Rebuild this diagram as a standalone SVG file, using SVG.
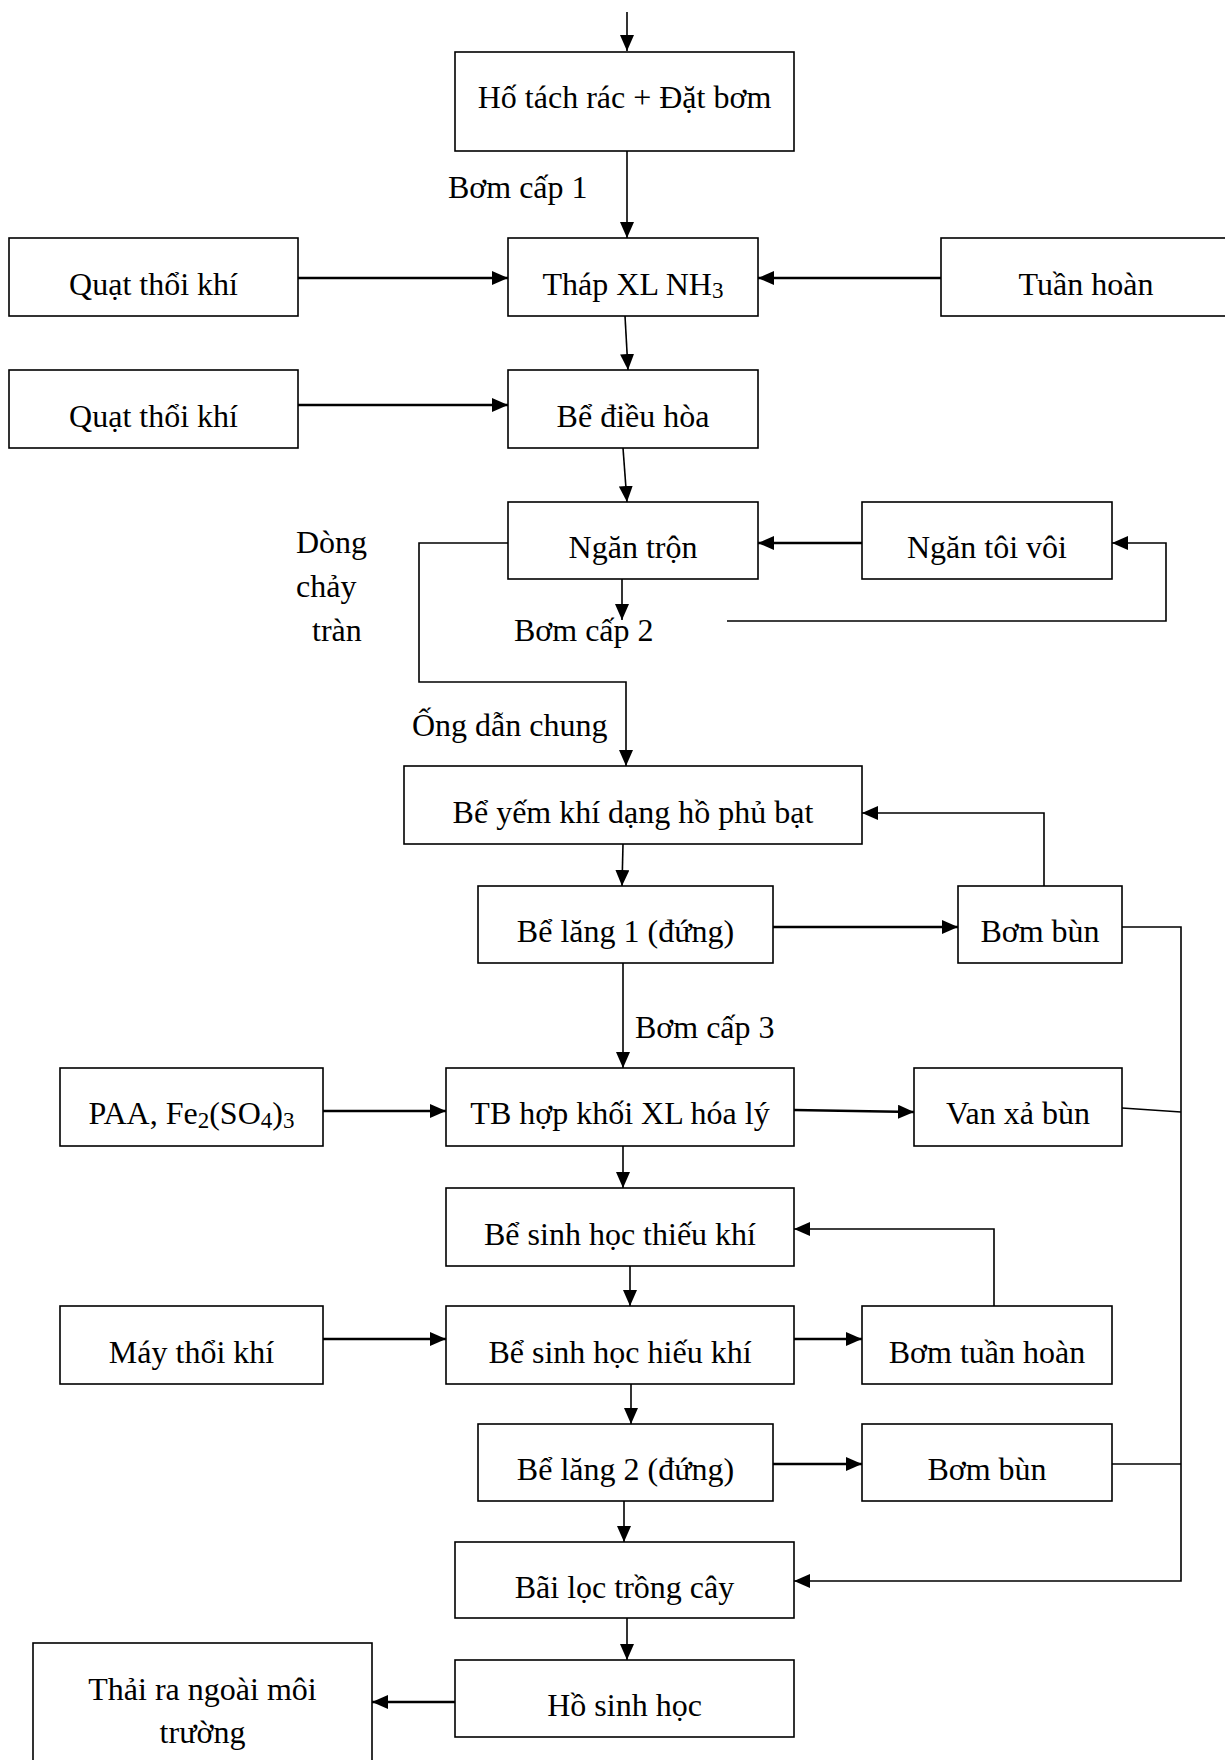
<svg xmlns="http://www.w3.org/2000/svg" width="1225" height="1760" viewBox="0 0 1225 1760">
<style>
.box{fill:#fff;stroke:#000;stroke-width:1.6}
.t{font-family:"Liberation Serif","Times New Roman",serif;font-size:32px;fill:#000}
.c{text-anchor:middle}
.ln{fill:none;stroke:#000;stroke-width:1.6}
.hl{stroke-width:2.4}
.sub{font-size:23px}
</style>
<defs>
<marker id="ah" markerUnits="userSpaceOnUse" markerWidth="16" markerHeight="14" refX="16" refY="7" orient="auto">
<path d="M0,0 L16,7 L0,14 z" fill="#000"/>
</marker>
</defs>
<rect width="1225" height="1760" fill="#fff"/>

<g id="connectors">
<line class="ln" x1="627" y1="12" x2="627" y2="51" marker-end="url(#ah)"/>
<line class="ln" x1="627" y1="151" x2="627" y2="238" marker-end="url(#ah)"/>
<line class="ln hl" x1="298" y1="278" x2="508" y2="278" marker-end="url(#ah)"/>
<line class="ln hl" x1="941" y1="278" x2="758" y2="278" marker-end="url(#ah)"/>
<line class="ln" x1="625" y1="316" x2="628" y2="370" marker-end="url(#ah)"/>
<line class="ln hl" x1="298" y1="405" x2="508" y2="405" marker-end="url(#ah)"/>
<line class="ln" x1="623" y1="448" x2="627" y2="502" marker-end="url(#ah)"/>
<line class="ln hl" x1="862" y1="543" x2="758" y2="543" marker-end="url(#ah)"/>
<polyline class="ln" points="727,621 1166,621 1166,543 1112,543" marker-end="url(#ah)"/>
<line class="ln" x1="622" y1="579" x2="622" y2="620" marker-end="url(#ah)"/>
<polyline class="ln" points="508,543 419,543 419,682 626,682 626,766" marker-end="url(#ah)"/>
<line class="ln" x1="623" y1="844" x2="622" y2="886" marker-end="url(#ah)"/>
<line class="ln hl" x1="773" y1="927" x2="958" y2="927" marker-end="url(#ah)"/>
<polyline class="ln" points="1044,886 1044,813 862,813" marker-end="url(#ah)"/>
<polyline class="ln" points="1122,927 1181,927 1181,1581 794,1581" marker-end="url(#ah)"/>
<line class="ln" x1="623" y1="963" x2="623" y2="1068" marker-end="url(#ah)"/>
<line class="ln hl" x1="323" y1="1111" x2="446" y2="1111" marker-end="url(#ah)"/>
<line class="ln hl" x1="794" y1="1110" x2="914" y2="1112" marker-end="url(#ah)"/>
<line class="ln" x1="1122" y1="1108" x2="1181" y2="1112"/>
<line class="ln" x1="623" y1="1146" x2="623" y2="1188" marker-end="url(#ah)"/>
<line class="ln" x1="630" y1="1266" x2="630" y2="1306" marker-end="url(#ah)"/>
<line class="ln hl" x1="323" y1="1339" x2="446" y2="1339" marker-end="url(#ah)"/>
<line class="ln hl" x1="794" y1="1339" x2="862" y2="1339" marker-end="url(#ah)"/>
<polyline class="ln" points="994,1306 994,1229 794,1229" marker-end="url(#ah)"/>
<line class="ln" x1="631" y1="1384" x2="631" y2="1424" marker-end="url(#ah)"/>
<line class="ln hl" x1="773" y1="1464" x2="862" y2="1464" marker-end="url(#ah)"/>
<line class="ln" x1="1112" y1="1464" x2="1181" y2="1464"/>
<line class="ln" x1="624" y1="1501" x2="624" y2="1542" marker-end="url(#ah)"/>
<line class="ln" x1="627" y1="1618" x2="627" y2="1660" marker-end="url(#ah)"/>
<line class="ln hl" x1="455" y1="1702" x2="372" y2="1702" marker-end="url(#ah)"/>
</g>

<g id="labels">
<text class="t" x="448" y="198">Bơm cấp 1</text>
<text class="t" x="296" y="553">Dòng</text>
<text class="t" x="296" y="597">chảy</text>
<text class="t" x="312" y="641">tràn</text>
<text class="t" x="514" y="641">Bơm cấp 2</text>
<text class="t" x="412" y="736">Ống dẫn chung</text>
<text class="t" x="635" y="1038">Bơm cấp 3</text>
</g>

<g id="n-hotachrac"><rect class="box" x="455" y="52" width="339" height="99"/><text class="t c" x="624.5" y="108">Hố tách rác + Đặt bơm</text></g>
<g id="n-quat1"><rect class="box" x="9" y="238" width="289" height="78"/><text class="t c" x="153.5" y="295">Quạt thổi khí</text></g>
<g id="n-thap"><rect class="box" x="508" y="238" width="250" height="78"/><text class="t c" x="633" y="295">Tháp XL NH<tspan class="sub" dy="3">3</tspan></text></g>
<g id="n-tuanhoan"><rect class="box" x="941" y="238" width="290" height="78"/><text class="t c" x="1086" y="295">Tuần hoàn</text></g>
<g id="n-quat2"><rect class="box" x="9" y="370" width="289" height="78"/><text class="t c" x="153.5" y="427">Quạt thổi khí</text></g>
<g id="n-dieuhoa"><rect class="box" x="508" y="370" width="250" height="78"/><text class="t c" x="633" y="427">Bể điều hòa</text></g>
<g id="n-ngantron"><rect class="box" x="508" y="502" width="250" height="77"/><text class="t c" x="633" y="558">Ngăn trộn</text></g>
<g id="n-toivoi"><rect class="box" x="862" y="502" width="250" height="77"/><text class="t c" x="987" y="558">Ngăn tôi vôi</text></g>
<g id="n-yemkhi"><rect class="box" x="404" y="766" width="458" height="78"/><text class="t c" x="633" y="823">Bể yếm khí dạng hồ phủ bạt</text></g>
<g id="n-lang1"><rect class="box" x="478" y="886" width="295" height="77"/><text class="t c" x="625.5" y="942">Bể lăng 1 (đứng)</text></g>
<g id="n-bombun1"><rect class="box" x="958" y="886" width="164" height="77"/><text class="t c" x="1040" y="942">Bơm bùn</text></g>
<g id="n-paa"><rect class="box" x="60" y="1068" width="263" height="78"/><text class="t c" x="191.5" y="1124">PAA, Fe<tspan class="sub" dy="4">2</tspan><tspan dy="-4">(SO</tspan><tspan class="sub" dy="4">4</tspan><tspan dy="-4">)</tspan><tspan class="sub" dy="4">3</tspan></text></g>
<g id="n-hoaly"><rect class="box" x="446" y="1068" width="348" height="78"/><text class="t c" x="620" y="1124">TB hợp khối XL hóa lý</text></g>
<g id="n-vanxa"><rect class="box" x="914" y="1068" width="208" height="78"/><text class="t c" x="1018" y="1124">Van xả bùn</text></g>
<g id="n-thieukhi"><rect class="box" x="446" y="1188" width="348" height="78"/><text class="t c" x="620" y="1245">Bể sinh học thiếu khí</text></g>
<g id="n-maythoi"><rect class="box" x="60" y="1306" width="263" height="78"/><text class="t c" x="191.5" y="1363">Máy thổi khí</text></g>
<g id="n-hieukhi"><rect class="box" x="446" y="1306" width="348" height="78"/><text class="t c" x="620" y="1363">Bể sinh học hiếu khí</text></g>
<g id="n-bomtuanhoan"><rect class="box" x="862" y="1306" width="250" height="78"/><text class="t c" x="987" y="1363">Bơm tuần hoàn</text></g>
<g id="n-lang2"><rect class="box" x="478" y="1424" width="295" height="77"/><text class="t c" x="625.5" y="1480">Bể lăng 2 (đứng)</text></g>
<g id="n-bombun2"><rect class="box" x="862" y="1424" width="250" height="77"/><text class="t c" x="987" y="1480">Bơm bùn</text></g>
<g id="n-bailoc"><rect class="box" x="455" y="1542" width="339" height="76"/><text class="t c" x="624.5" y="1598">Bãi lọc trồng cây</text></g>
<g id="n-hosinhhoc"><rect class="box" x="455" y="1660" width="339" height="77"/><text class="t c" x="624.5" y="1716">Hồ sinh học</text></g>
<g id="n-thaira"><rect class="box" x="33" y="1643" width="339" height="130"/><text class="t c" x="202.5" y="1700">Thải ra ngoài môi</text><text class="t c" x="202.5" y="1743">trường</text></g>
</svg>
